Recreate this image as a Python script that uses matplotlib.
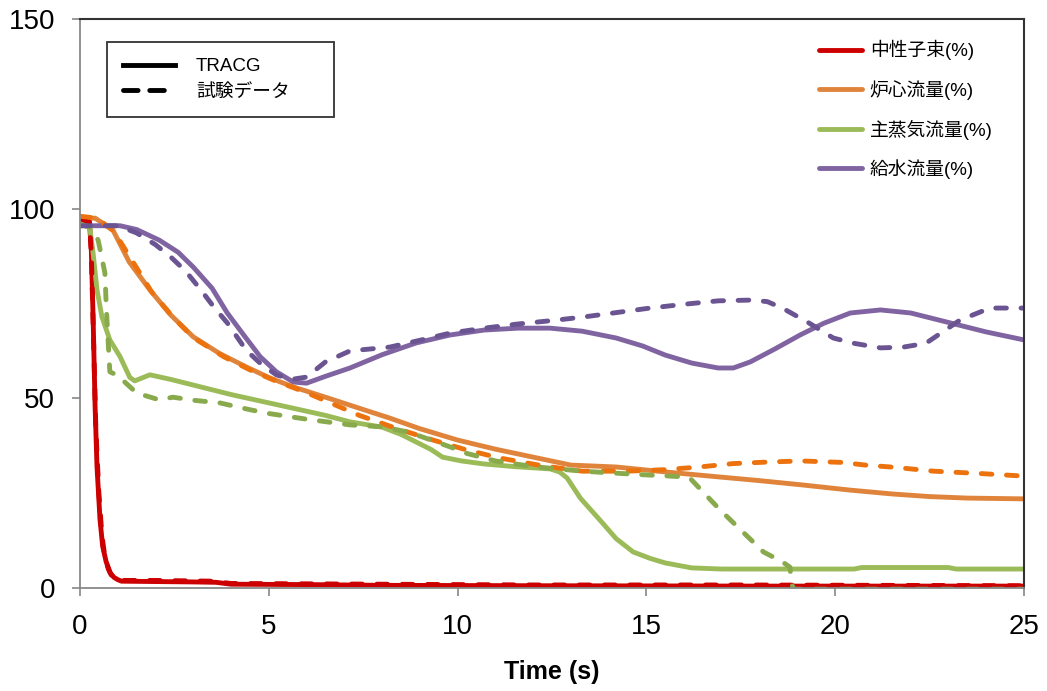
import matplotlib
matplotlib.use('Agg')
import matplotlib.pyplot as plt
from matplotlib.lines import Line2D

plt.rcParams['font.family'] = ['Liberation Sans', 'Noto Sans CJK JP', 'DejaVu Sans']

# ---- data (time in s, value in %) ----
red_t  = [0, 0.25, 0.3, 0.35, 0.4, 0.45, 0.53, 0.6, 0.69, 0.8, 0.9, 1.0, 1.1, 2, 3, 3.6, 4.0, 6, 8, 12, 18, 25]
red_v  = [97, 96.5, 89, 70, 47.7, 32, 18, 11, 7, 4, 2.8, 2.2, 1.8, 1.7, 1.6, 1.5, 1.0, 0.9, 0.7, 0.6, 0.5, 0.5]
red_te = [0, 0.25, 0.3, 0.36, 0.42, 0.5, 0.58, 0.66, 0.75, 0.85, 1.0, 1.2, 2, 3.5, 4, 8, 12, 17.5, 25]
red_ve = [97, 96.5, 88, 65, 42, 25, 14, 8, 5, 3, 2.2, 2.0, 2.0, 1.8, 1.2, 1.0, 0.8, 0.8, 0.6]

core_t  = [0, 0.4, 0.87, 1.3, 1.85, 2.4, 3.0, 3.7, 4.4, 5.0, 5.65, 6.5, 7.3, 8.2, 9.0, 10, 11, 12, 13,
           14.2, 15.5, 16.9, 18, 19.1, 20.4, 21.5, 22.5, 23.5, 25]
core_v  = [97.5, 97.5, 94.4, 86, 78.6, 72, 66.2, 61.8, 58.3, 55.5, 53, 50.3, 47.7, 44.8, 42, 39, 36.6, 34.5, 32.4,
           31.9, 30.6, 29.3, 28.3, 27.2, 25.8, 24.8, 24.1, 23.7, 23.5]
core_te = [0, 0.45, 0.9, 1.4, 1.9, 2.5, 3.0, 3.8, 4.5, 5.2, 6.0, 6.7, 7.4, 8.4, 9.35, 10.2, 11.1, 12.2, 13.3,
           14.5, 15.5, 16.4, 17.3, 18.2, 19.1, 20.2, 20.8, 21.6, 22.6, 23.8, 25]
core_ve = [98, 97.5, 94, 86, 78, 71, 66, 61, 57.5, 54.5, 51.5, 48.5, 45.5, 42, 39, 36.5, 34.3, 32.3, 30.8,
           30.8, 31.2, 31.9, 32.8, 33.2, 33.5, 33.1, 32.4, 31.8, 30.8, 30.2, 29.5]

steam_t  = [0, 0.26, 0.35, 0.45, 0.58, 0.79, 1.06, 1.32, 1.45, 1.85, 2.4, 3.0, 4.0, 5.0, 5.64, 6.5, 7.15, 8.0,
            8.5, 8.9, 9.3, 9.6, 10.1, 10.7, 11.5, 12.45, 12.7, 12.9, 13.25, 13.77, 14.2, 14.65, 15.1, 15.5,
            16.2, 17, 20.5, 20.7, 23, 23.2, 25]
steam_v  = [96, 95, 88, 78.6, 71.5, 65.4, 61, 55.5, 54.6, 56.2, 55, 53.5, 51, 48.8, 47.4, 45.5, 43.8, 42.4,
            40.5, 38.5, 36.5, 34.5, 33.5, 32.7, 32, 31.4, 30.6, 29, 23.7, 17.9, 13, 9.5, 7.8, 6.6,
            5.3, 5.0, 5.0, 5.4, 5.4, 5.0, 5.0]
steam_te = [0, 0.3, 0.48, 0.6, 0.66, 0.7, 0.79, 1.0, 1.5, 2.1, 2.46, 3.0, 3.7, 4.5, 5.0, 6.0, 7.15, 8.0, 8.7,
            9.3, 9.8, 10.2, 11, 12, 13.3, 14.65, 16.0, 16.15, 16.5, 16.95, 17.5, 18.1, 18.6, 18.8, 18.85,
            18.9, 25]
steam_ve = [96, 95, 91.7, 86, 83, 73.3, 57, 56, 51.4, 49.6, 50.3, 49.5, 48.8, 47, 46, 44.5, 43, 42.5, 41.1,
            39, 37.2, 35.6, 33.5, 32, 30.8, 30, 29.3, 29, 25.3, 20.6, 15.3, 9.5, 6.9, 5.5, 1,
            -0.3, -0.3]

feed_t  = [0, 1.06, 1.5, 2.1, 2.6, 3.0, 3.5, 3.9, 4.35, 4.77, 5.2, 5.65, 6.0, 6.5, 7.15, 8.0, 8.9, 9.8, 10.7,
           11.6, 12.45, 13.3, 14.2, 14.9, 15.5, 16.2, 16.9, 17.3, 17.75, 18.4, 19.07, 19.7, 20.4, 21.2, 22.0,
           23.0, 24.0, 25]
feed_v  = [95.5, 95.5, 94.5, 91.7, 88.5, 84.6, 79, 72.5, 66.5, 61, 57, 54.3, 54, 55.8, 58, 61.5, 64.6, 66.7, 68,
           68.5, 68.5, 67.7, 65.9, 63.8, 61.4, 59.3, 58, 58, 59.6, 63, 66.7, 69.8, 72.5, 73.3, 72.5,
           70, 67.5, 65.4]
feed_te = [0, 1.0, 1.5, 2.0, 2.4, 2.8, 3.2, 3.55, 3.9, 4.4, 4.8, 5.2, 5.6, 6.0, 6.5, 7.15, 8.2, 9.0, 9.8, 10.7,
           11.6, 12.5, 13.3, 14.2, 15.1, 16.0, 16.9, 17.75, 18.2, 18.6, 19.3, 19.95, 20.5, 21.2, 21.8, 22.4,
           23.3, 24.1, 25]
feed_ve = [95.5, 95.5, 93.6, 90.5, 87.3, 83.5, 78.6, 74, 69.9, 62.7, 59, 56.2, 55, 55.6, 59.6, 62.5, 63.5, 65.3,
           67.2, 68.5, 69.6, 70.5, 71.4, 72.6, 73.8, 74.8, 75.7, 75.9, 75.5, 73.8, 69.9, 65.9, 64.5, 63.3,
           63.5, 64.5, 70.6, 73.8, 73.8]

labels = ['中性子束(%)', '炉心流量(%)', '主蒸気流量(%)', '給水流量(%)']
solid_colors = ['#CC0000', '#E0843C', '#9BBB59', '#8064A2']
dash_colors = ['#CC0000', '#EC720E', '#88AA4C', '#6B5492']
x_ticks = [0, 5, 10, 15, 20, 25]
y_ticks = [0, 50, 100, 150]

solid = [(red_t, red_v), (core_t, core_v), (steam_t, steam_v), (feed_t, feed_v)]
dashed = [(red_te, red_ve), (core_te, core_ve), (steam_te, steam_ve), (feed_te, feed_ve)]

fig = plt.figure(figsize=(10.47, 6.91), dpi=100)
ax = fig.add_axes([80/1047, 103/691, 944/1047, 569/691])

lw = 3.5
dash = (0, (2.2, 3.0))
handles = []
for (t, v), c, lab in zip(solid, solid_colors, labels):
    h, = ax.plot(t, v, color=c, lw=lw, solid_capstyle='round', solid_joinstyle='round', label=lab)
    handles.append(h)
for (t, v), c in zip(dashed, dash_colors):
    ax.plot(t, v, color=c, lw=lw, ls=dash, dash_capstyle='round', dash_joinstyle='round')

ax.set_xlim(0, 25)
ax.set_ylim(0, 150)
ax.set_xticks(x_ticks)
ax.set_yticks(y_ticks)
ax.tick_params(axis='both', direction='out', length=6, width=1.2, color='#888888', labelsize=20)
ax.tick_params(axis='x', pad=13)
ax.tick_params(axis='y', pad=12)
for s in ['left', 'bottom']:
    ax.spines[s].set_color('#888888')
    ax.spines[s].set_linewidth(1.3)
for s in ['top', 'right']:
    ax.spines[s].set_color('#333333')
    ax.spines[s].set_linewidth(1.5)

ax.set_xlabel('Time (s)', fontsize=18, fontweight='bold', labelpad=14)

# legend for line style
style_handles = [Line2D([], [], color='black', lw=lw),
                 Line2D([], [], color='black', lw=lw, ls=(0, (3.0, 2.4)), dash_capstyle='round')]
leg1 = ax.legend(style_handles, ['TRACG', '試験データ'], loc='upper left',
                 bbox_to_anchor=(0.0286, 0.822, 0.2405, 0.1375), mode='expand',
                 fontsize=13.5, frameon=True, fancybox=False,
                 edgecolor='black', handlelength=2.8, borderpad=0.85, labelspacing=0.45,
                 handletextpad=1.1, borderaxespad=0)
leg1.get_frame().set_linewidth(1.3)
ax.add_artist(leg1)

ax.legend(handles=handles, loc='upper left', bbox_to_anchor=(0.775, 0.976), fontsize=13.5,
          frameon=False, handlelength=2.3, labelspacing=1.05, handletextpad=0.4, borderaxespad=0)

plt.savefig('out.png', dpi=100)
